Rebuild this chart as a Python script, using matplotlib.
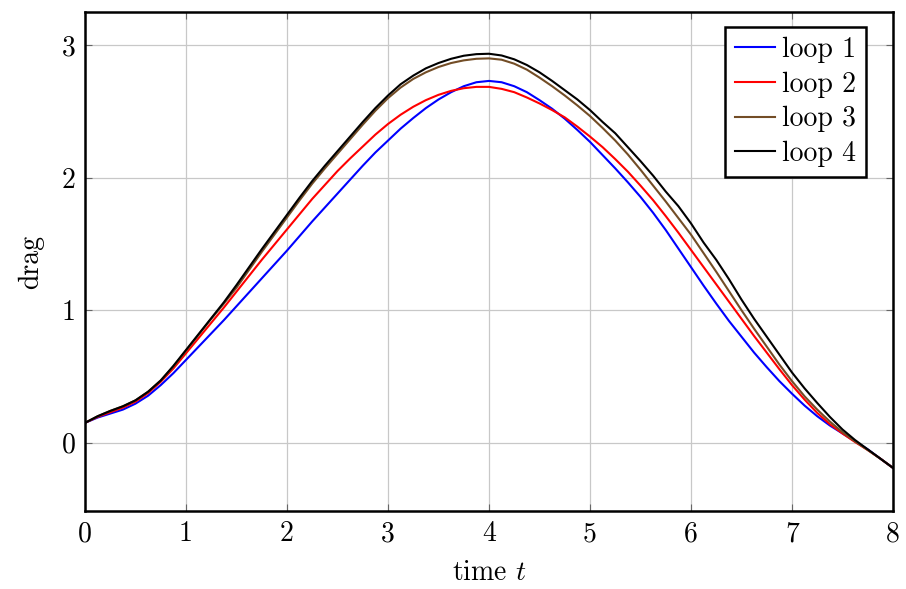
import matplotlib
matplotlib.use("Agg")
import matplotlib.pyplot as plt

# ---- data ----
t = [0.0, 0.125, 0.25, 0.375, 0.5, 0.625, 0.75, 0.875, 1.0, 1.125, 1.25, 1.375,
     1.5, 1.625, 1.75, 1.875, 2.0, 2.125, 2.25, 2.375, 2.5, 2.625, 2.75, 2.875,
     3.0, 3.125, 3.25, 3.375, 3.5, 3.625, 3.75, 3.875, 4.0, 4.125, 4.25, 4.375,
     4.5, 4.625, 4.75, 4.875, 5.0, 5.125, 5.25, 5.375, 5.5, 5.625, 5.75, 5.875,
     6.0, 6.125, 6.25, 6.375, 6.5, 6.625, 6.75, 6.875, 7.0, 7.125, 7.25, 7.375,
     7.5, 7.625, 7.75, 7.875, 8.0]

loop1 = [0.15, 0.19, 0.22, 0.25, 0.295, 0.355, 0.435, 0.525, 0.625, 0.725, 0.825, 0.925,
         1.03, 1.135, 1.24, 1.345, 1.45, 1.56, 1.67, 1.775, 1.88, 1.985, 2.09, 2.19,
         2.28, 2.37, 2.45, 2.525, 2.59, 2.645, 2.69, 2.72, 2.73, 2.72, 2.69, 2.645,
         2.585, 2.52, 2.445, 2.36, 2.27, 2.17, 2.07, 1.965, 1.855, 1.735, 1.605, 1.465,
         1.325, 1.185, 1.05, 0.92, 0.80, 0.68, 0.57, 0.465, 0.37, 0.28, 0.20, 0.13,
         0.07, 0.01, -0.05, -0.12, -0.19]

loop2 = [0.15, 0.195, 0.23, 0.265, 0.31, 0.375, 0.46, 0.56, 0.675, 0.79, 0.905, 1.02,
         1.14, 1.26, 1.38, 1.495, 1.61, 1.725, 1.84, 1.945, 2.05, 2.145, 2.235, 2.325,
         2.405, 2.475, 2.535, 2.585, 2.625, 2.655, 2.675, 2.685, 2.685, 2.67, 2.645, 2.605,
         2.56, 2.51, 2.455, 2.385, 2.31, 2.23, 2.14, 2.045, 1.94, 1.83, 1.71, 1.585,
         1.455, 1.325, 1.195, 1.065, 0.935, 0.805, 0.68, 0.555, 0.435, 0.325, 0.225, 0.14,
         0.07, 0.005, -0.055, -0.12, -0.19]

loop3 = [0.15, 0.20, 0.24, 0.275, 0.32, 0.385, 0.47, 0.575, 0.695, 0.815, 0.935, 1.05,
         1.17, 1.305, 1.44, 1.57, 1.70, 1.83, 1.955, 2.07, 2.18, 2.29, 2.40, 2.505,
         2.60, 2.68, 2.745, 2.795, 2.835, 2.865, 2.885, 2.897, 2.90, 2.89, 2.86, 2.815,
         2.755, 2.69, 2.62, 2.545, 2.465, 2.375, 2.28, 2.175, 2.06, 1.94, 1.82, 1.695,
         1.57, 1.43, 1.29, 1.145, 1.00, 0.86, 0.725, 0.59, 0.465, 0.35, 0.25, 0.16,
         0.08, 0.01, -0.055, -0.12, -0.19]

loop4 = [0.15, 0.20, 0.24, 0.275, 0.32, 0.385, 0.47, 0.58, 0.70, 0.82, 0.94, 1.06,
         1.19, 1.325, 1.46, 1.59, 1.72, 1.85, 1.975, 2.09, 2.20, 2.31, 2.42, 2.525,
         2.62, 2.705, 2.77, 2.825, 2.865, 2.897, 2.92, 2.932, 2.935, 2.922, 2.893, 2.85,
         2.795, 2.73, 2.66, 2.59, 2.51, 2.42, 2.335, 2.23, 2.125, 2.015, 1.895, 1.785,
         1.655, 1.51, 1.38, 1.235, 1.08, 0.935, 0.80, 0.665, 0.53, 0.41, 0.30, 0.195,
         0.10, 0.02, -0.05, -0.12, -0.19]

labels = ["loop 1", "loop 2", "loop 3", "loop 4"]
colors = ["#0000ff", "#ff0000", "#734d26", "#000000"]

xticks = [0, 1, 2, 3, 4, 5, 6, 7, 8]
yticks = [0, 1, 2, 3]

# ---- style ----
plt.rcParams["font.family"] = ["cmr10", "DejaVu Serif"]
plt.rcParams["mathtext.fontset"] = "cm"
plt.rcParams["axes.formatter.use_mathtext"] = True
plt.rcParams["axes.unicode_minus"] = False

FS = 20

fig = plt.figure(figsize=(9.06, 5.89), dpi=100)
ax = fig.add_axes([85 / 906, 1 - 511 / 589, (893 - 85) / 906, (511 - 12) / 589])

for y, lab, c in zip([loop1, loop2, loop3, loop4], labels, colors):
    ax.plot(t, y, color=c, lw=1.5, label=lab, solid_joinstyle="round")

ax.set_xlim(0, 8)
ax.set_ylim(-0.515, 3.25)
ax.set_xticks(xticks)
ax.set_yticks(yticks)
ax.set_xticklabels([str(v) for v in xticks])
ax.set_yticklabels([str(v) for v in yticks])

ax.grid(True, color="#c8c8c8", lw=0.9)
ax.set_axisbelow(True)
ax.tick_params(direction="in", length=5, width=0.8, color="#666666",
               labelsize=FS, pad=7, top=True, right=True)
for s in ax.spines.values():
    s.set_linewidth(1.8)
    s.set_color("black")

ax.set_xlabel("time $t$", fontsize=FS, labelpad=9)
ax.set_ylabel("drag", fontsize=FS, labelpad=12)

leg = ax.legend(loc="upper right", bbox_to_anchor=((866 - 85) / 808, (511 - 27) / 499),
                borderaxespad=0, fontsize=FS, fancybox=False, framealpha=1,
                edgecolor="black", handlelength=1.45, handletextpad=0.25,
                labelspacing=0.3, borderpad=0.35)
leg.get_frame().set_linewidth(1.8)
for line in leg.get_lines():
    line.set_linewidth(1.5)

fig.savefig("out.png", dpi=100)
